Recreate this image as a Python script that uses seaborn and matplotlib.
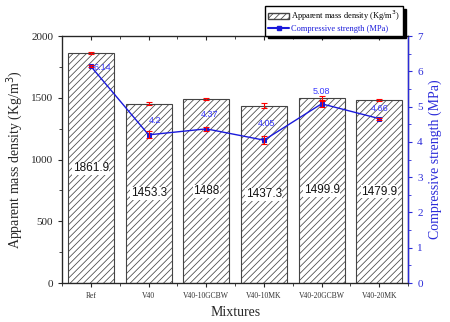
import numpy as np
import pandas as pd
import matplotlib
matplotlib.use('Agg')
import matplotlib.pyplot as plt
from matplotlib.patches import Patch
from matplotlib.lines import Line2D
from matplotlib.ticker import MultipleLocator, FixedLocator
import seaborn as sns

mixtures = ['Ref', 'V40', 'V40-10GCBW', 'V40-10MK', 'V40-20GCBW', 'V40-20MK']
density = [1861.9, 1453.3, 1488, 1437.3, 1499.9, 1479.9]
density_err = [8, 15, 7, 17, 15, 7]
strength = [6.14, 4.2, 4.37, 4.05, 5.08, 4.66]
strength_err = [0.03, 0.1, 0.05, 0.12, 0.08, 0.03]
label_offsets = [(8, -1), (5, 10), (2, 10), (2, 12), (0, 9), (0, 7)]

sns.set_style('ticks')
plt.rcParams['font.family'] = ['Liberation Serif', 'DejaVu Serif']
plt.rcParams['hatch.color'] = '#7a7a7a'
plt.rcParams['hatch.linewidth'] = 0.55

df = pd.DataFrame({'Mixtures': mixtures, 'Density': density})

fig = plt.figure(figsize=(4.5, 3.22), dpi=100)
ax = fig.add_axes([0.138, 0.121, 0.769, 0.767])

sns.barplot(data=df, x='Mixtures', y='Density', ax=ax, color='white',
            edgecolor='#444444', linewidth=0.8, width=0.8, hatch='/////')
x = np.arange(len(mixtures))
ax.errorbar(x, density, yerr=density_err, fmt='none', ecolor='red',
            elinewidth=0.8, capsize=2, capthick=0.8)

for i, v in enumerate(density):
    ax.text(i, v / 2, f'{v:g}', ha='center', va='center', fontsize=8.5,
            family=['Liberation Sans', 'DejaVu Sans'], color='#111111',
            bbox=dict(facecolor='white', edgecolor='none', pad=0.3))

ax.set_xlim(-0.5, len(mixtures) - 0.5)
ax.set_ylim(0, 2000)
ax.yaxis.set_major_locator(MultipleLocator(500))
ax.yaxis.set_minor_locator(MultipleLocator(250))
ax.xaxis.set_minor_locator(FixedLocator(np.arange(-0.5, len(mixtures), 1.0)))
ax.tick_params(axis='x', which='both', top=True, labelsize=5.5, length=3,
               direction='out', labelcolor='#333333')
ax.tick_params(axis='y', labelsize=8, length=3)
ax.tick_params(which='minor', length=2)
ax.set_xlabel('Mixtures', fontsize=10)
ax.set_ylabel('Apparent mass density (Kg/m$^3$)', fontsize=10)
for s in ax.spines.values():
    s.set_visible(True)
    s.set_linewidth(0.9)

ax2 = ax.twinx()
sns.lineplot(x=x, y=strength, ax=ax2, color='#1a1adb', linewidth=1.0,
             marker='s', markersize=3.5, markeredgecolor='#1a1adb')
ax2.errorbar(x, strength, yerr=strength_err, fmt='none', ecolor='red',
             elinewidth=0.8, capsize=2, capthick=0.8)
for i, v in enumerate(strength):
    ax2.annotate(f'{v:g}', (i, v), xytext=label_offsets[i],
                 textcoords='offset points', ha='center', va='center',
                 fontsize=6.5, color='#3b3bff',
                 family=['Liberation Sans', 'DejaVu Sans'])
ax2.set_ylim(0, 7)
ax2.yaxis.set_major_locator(MultipleLocator(1))
ax2.yaxis.set_minor_locator(MultipleLocator(0.5))
ax2.tick_params(axis='y', which='both', colors='#2b2bd9', labelsize=8, length=3)
ax2.tick_params(axis='y', which='minor', length=2)
ax2.spines['right'].set_color('#2b2bd9')
ax2.spines['right'].set_linewidth(1.0)
ax2.set_ylabel('Compressive strength (MPa)', fontsize=10, color='#2b2bd9')

# top ticks point inward
for t in ax.xaxis.get_major_ticks() + ax.xaxis.get_minor_ticks():
    t.tick2line.set_marker(3)

handles = [Patch(facecolor='white', edgecolor='#444444', hatch='/////',
                 label='Apparent mass density (Kg/m$^3$)'),
           Line2D([], [], color='#1a1adb', marker='s', markersize=3,
                  label='Compressive strength (MPa)')]
fig.legend(handles=handles, loc='upper right', bbox_to_anchor=(0.905, 0.995),
           fontsize=6, frameon=True, fancybox=False, edgecolor='black',
           shadow={'color': 'black', 'alpha': 1}, borderpad=0.35,
           handlelength=2.5, handletextpad=0.3, labelspacing=0.2,
           labelcolor=['black', '#1a1adb'], framealpha=1)

fig.savefig('out.png', dpi=100)
